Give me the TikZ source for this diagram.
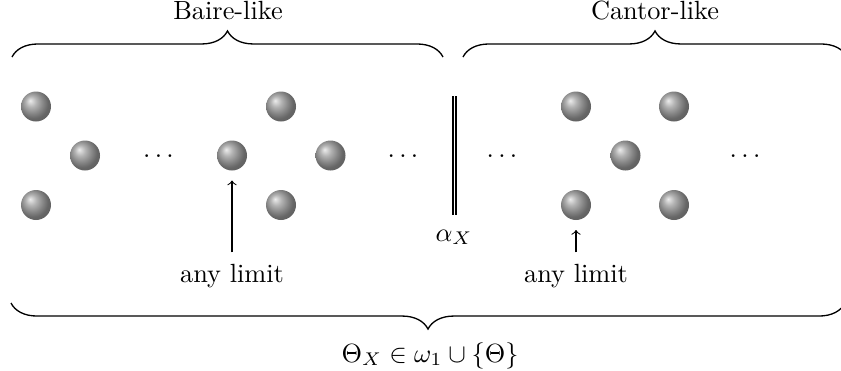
\documentclass[tikz,border=0pt]{standalone}
\usetikzlibrary{decorations.pathreplacing,shadings}
\pgfdeclareradialshading{myball}{\pgfpoint{-10bp}{10bp}}{color(0bp)=(gray!15); color(9bp)=(gray!60); color(18bp)=(gray!95); color(25bp)=(gray!80!black); color(50bp)=(gray!60!black)}
\begin{document}
\begin{tikzpicture}[x=0.38pt,y=-0.38pt,
  ballnode/.style={circle,inner sep=0pt,minimum size=11.4pt,shading=myball},
  bracepath/.style={decorate,decoration={brace,amplitude=9.9pt},line width=0.5pt},
  limarrow/.style={->,shorten <=1.1pt,shorten >=3.6pt},
  lbl/.style={anchor=base,inner sep=0pt}]
\useasboundingbox (0,0) rectangle (841,370);
% braces
\coordinate (bl) at (12,57);
\coordinate (br) at (443,57);
\coordinate (cl) at (463,57);
\coordinate (cr) at (847,57);
\coordinate (tl) at (11,303);
\coordinate (tr) at (845,303);
\draw[bracepath] (bl) -- (br);
\draw[bracepath] (cl) -- (cr);
\draw[bracepath] (tr) -- (tl);
\node[lbl] (baire) at (228,19.5) {Baire-like};
\node[lbl] (cantor) at (655,19.5) {Cantor-like};
\node[lbl] (theta) at (430,362) {$\Theta_X\in\omega_1\cup\{\Theta\}$};
% balls
\node[ballnode] (a1) at (36,106.5) {};
\node[ballnode] (a2) at (85,155.5) {};
\node[ballnode] (a3) at (36,205) {};
\node[ballnode] (a4) at (232,155.5) {};
\node[ballnode] (a5) at (281,106.5) {};
\node[ballnode] (a6) at (330.5,155.5) {};
\node[ballnode] (a7) at (281,205) {};
\node[ballnode] (c1) at (576,106.5) {};
\node[ballnode] (c2) at (625.5,155.5) {};
\node[ballnode] (c3) at (576,205) {};
\node[ballnode] (c4) at (674,106.5) {};
\node[ballnode] (c5) at (674,205) {};
% dots
\node[lbl] (d1) at (158.5,157) {$\dots$};
\node[lbl] (d2) at (403,157) {$\dots$};
\node[lbl] (d3) at (502,157) {$\dots$};
\node[lbl] (d4) at (745,157) {$\dots$};
% separator
\coordinate (st) at (454.5,96);
\coordinate (sb) at (454.5,215);
\draw[double,double distance=0.75pt,line width=0.5pt] (st) -- (sb);
\node[lbl] (alpha) at (454,241) {$\alpha_X$};
% any limit
\node (lim1) at (232,276.5) {any limit};
\node (lim2) at (576,276.5) {any limit};
\draw[limarrow] (lim1) -- (a4);
\draw[limarrow] (lim2) -- (c3);
\end{tikzpicture}
\end{document}
